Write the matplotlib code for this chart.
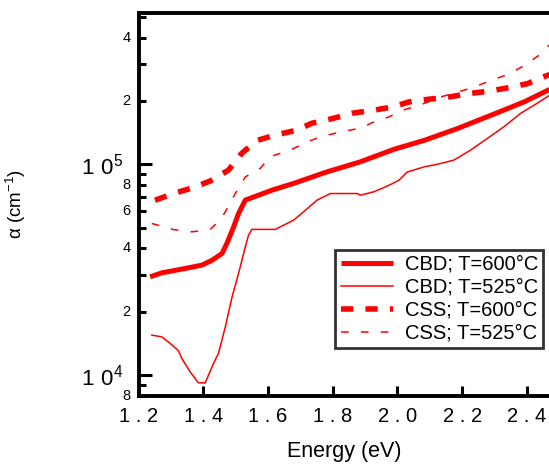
import numpy as np
import matplotlib
matplotlib.use("Agg")
import matplotlib.pyplot as plt
from matplotlib.ticker import FixedLocator, NullFormatter

plt.rcParams["font.family"] = ["Liberation Sans", "DejaVu Sans"]
plt.rcParams["mathtext.fontset"] = "custom"
plt.rcParams["mathtext.rm"] = "Liberation Sans"

# CBD, T=600C (thick solid)
cbd600_e = [1.236, 1.272, 1.344, 1.396, 1.427, 1.458, 1.473, 1.494, 1.509, 1.530,
            1.571, 1.612, 1.679, 1.783, 1.886, 1.989, 2.082, 2.185, 2.288, 2.391, 2.47]
cbd600_a = [2.93e4, 3.06e4, 3.21e4, 3.33e4, 3.51e4, 3.78e4, 4.22e4, 5.06e4, 5.85e4, 6.78e4,
            7.15e4, 7.55e4, 8.13e4, 9.23e4, 1.03e5, 1.18e5, 1.30e5, 1.48e5, 1.71e5, 1.98e5, 2.27e5]

# CBD, T=525C (thin solid)
cbd525_e = [1.241, 1.272, 1.292, 1.323, 1.334, 1.359, 1.385, 1.406, 1.432, 1.447, 1.468,
            1.489, 1.509, 1.530, 1.540, 1.550, 1.581, 1.623, 1.638, 1.679, 1.710, 1.752,
            1.793, 1.876, 1.886, 1.927, 1.968, 2.004, 2.030, 2.082, 2.133, 2.175, 2.226,
            2.278, 2.329, 2.381, 2.422, 2.47]
cbd525_a = [1.55e4, 1.52e4, 1.44e4, 1.31e4, 1.20e4, 1.04e4, 9.2e3, 9.2e3, 1.14e4, 1.27e4, 1.69e4,
            2.35e4, 3.04e4, 4.07e4, 4.62e4, 4.92e4, 4.92e4, 4.92e4, 5.06e4, 5.44e4, 5.96e4, 6.78e4,
            7.28e4, 7.28e4, 7.15e4, 7.42e4, 7.89e4, 8.4e4, 9.2e4, 9.74e4, 1.01e5, 1.05e5, 1.17e5,
            1.33e5, 1.51e5, 1.75e5, 1.91e5, 2.13e5]

# CSS, T=600C (thick dashed)
css600_e = [1.251, 1.313, 1.370, 1.421, 1.478, 1.519, 1.566, 1.623, 1.685, 1.736, 1.798,
            1.860, 1.927, 1.989, 2.035, 2.097, 2.159, 2.221, 2.285, 2.347, 2.402, 2.453, 2.47]
css600_a = [6.77e4, 7.31e4, 7.78e4, 8.34e4, 9.4e4, 1.13e5, 1.30e5, 1.38e5, 1.45e5, 1.57e5, 1.65e5,
            1.75e5, 1.81e5, 1.88e5, 1.98e5, 2.04e5, 2.09e5, 2.17e5, 2.23e5, 2.32e5, 2.42e5, 2.61e5, 2.67e5]

# CSS, T=525C (thin dashed)
css525_e = [1.241, 1.308, 1.365, 1.421, 1.452, 1.468, 1.499, 1.530, 1.576, 1.607, 1.669,
            1.721, 1.767, 1.828, 1.888, 1.922, 1.973, 2.017, 2.068, 2.133, 2.226, 2.291,
            2.343, 2.389, 2.438, 2.47]
css525_a = [5.25e4, 4.91e4, 4.79e4, 4.91e4, 5.44e4, 5.96e4, 7.28e4, 8.73e4, 9.58e4, 1.09e5, 1.17e5,
            1.28e5, 1.36e5, 1.43e5, 1.49e5, 1.58e5, 1.68e5, 1.81e5, 1.91e5, 2.09e5, 2.30e5, 2.51e5,
            2.68e5, 2.93e5, 3.30e5, 3.70e5]

x_ticks = [1.2, 1.4, 1.6, 1.8, 2.0, 2.2, 2.4]
x_labels = ["1 . 2", "1 . 4", "1 . 6", "1 . 8", "2 . 0", "2 . 2", "2 . 4"]

fig = plt.figure(figsize=(5.49, 4.66), dpi=100)
ax = fig.add_axes([0.2523, 0.151, 0.7487, 0.8217])

red = "#ff0000"
ax.plot(cbd600_e, cbd600_a, color=red, lw=3.6, solid_capstyle="butt", label="CBD; T=600\u00b0C")
ax.plot(cbd525_e, cbd525_a, color=red, lw=1.1, label="CBD; T=525\u00b0C")
ax.plot(css600_e, css600_a, color=red, lw=4.0, dashes=(2.2, 2.2), label="CSS; T=600\u00b0C")
ax.plot(css525_e, css525_a, color=red, lw=1.1, dashes=(5, 8), label="CSS; T=525\u00b0C")

ax.set_yscale("log")
ax.set_xlim(1.2, 2.47)
ax.set_ylim(8e3, 5.25e5)

ax.set_xticks(x_ticks)
ax.set_xticklabels(x_labels, fontsize=14.5)

ax.yaxis.set_major_locator(FixedLocator([1e4, 1e5]))
ax.set_yticklabels([r"$\mathregular{1\ 0^{4}}$", r"$\mathregular{1\ 0^{5}}$"], fontsize=16)
minor = [8e3, 9e3] + [k * 1e4 for k in range(2, 10)] + [k * 1e5 for k in range(2, 6)]
ax.yaxis.set_minor_locator(FixedLocator(minor))
ax.yaxis.set_minor_formatter(NullFormatter())
for v in [8e3, 2e4, 4e4, 6e4, 8e4, 2e5, 4e5]:
    ax.text(-0.02, v, str(int(round(v / 10 ** np.floor(np.log10(v))))), fontsize=10.5,
            ha="right", va="center", transform=ax.get_yaxis_transform())

ax.tick_params(which="both", direction="in", width=2.2, top=False, right=False)
ax.tick_params(axis="x", which="major", length=7, pad=8)
ax.tick_params(axis="y", which="major", length=9, pad=11)
ax.tick_params(axis="y", which="minor", length=5)

for side in ["left", "bottom", "top"]:
    ax.spines[side].set_linewidth(2.8)
ax.spines["right"].set_visible(False)

ax.set_xlabel("Energy (eV)", fontsize=15.5, labelpad=11)
ax.set_ylabel("\u03b1 (cm$^{-1}$)", fontsize=13.5)
ax.yaxis.set_label_coords(-0.27, 0.5)

leg = ax.legend(loc="lower right", bbox_to_anchor=(0.985, 0.125), fontsize=14.5,
                frameon=True, fancybox=False, handlelength=2.6, handletextpad=0.6,
                borderpad=0.25, labelspacing=0.2, borderaxespad=0)
leg.get_frame().set_edgecolor("black")
leg.get_frame().set_linewidth(2)

fig.savefig("out.png", dpi=100)
